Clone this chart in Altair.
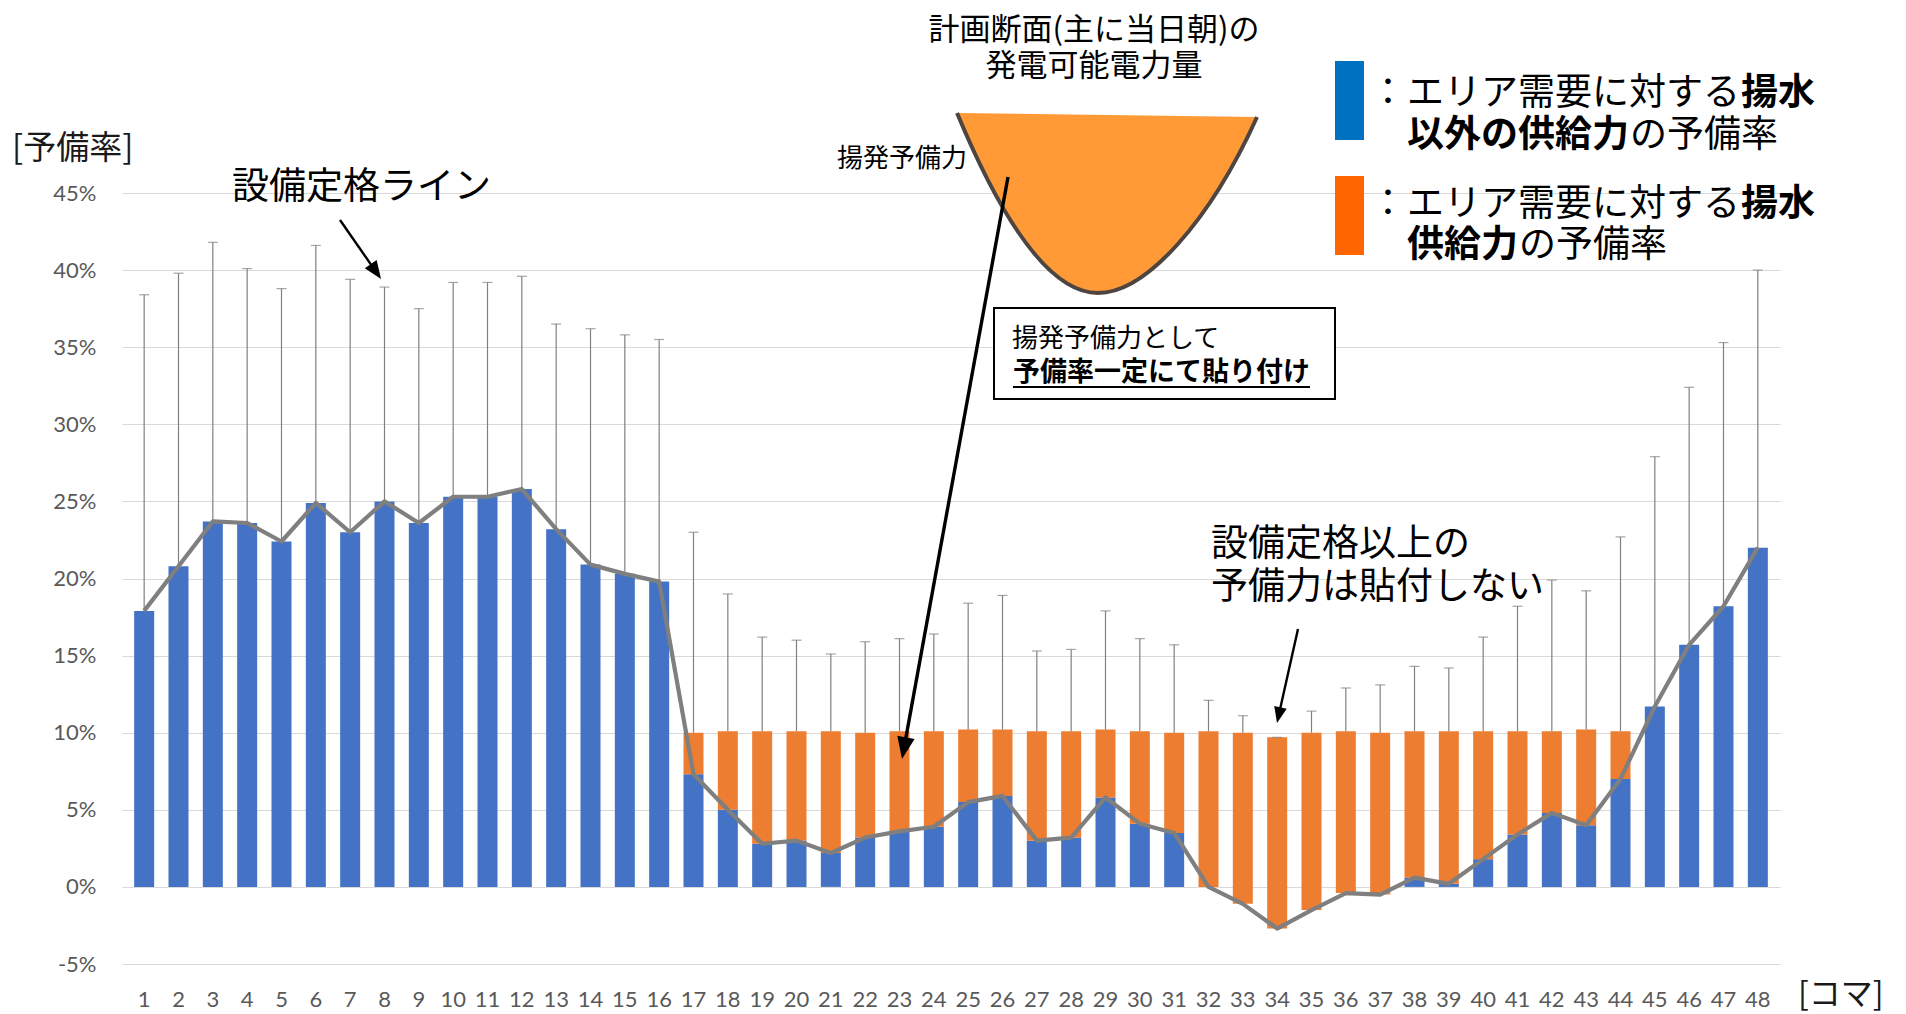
import math
import altair as alt
import pandas as pd

# ---------------- data ----------------
koma = list(range(1, 49))
# reserve rate of supply other than pumped storage (grey line)
line_rate = [17.9, 20.8, 23.7, 23.6, 22.4, 24.9, 23.0, 25.0, 23.6, 25.3, 25.3, 25.8,
             23.2, 20.9, 20.3, 19.8, 7.3, 5.0, 2.8, 3.0, 2.2, 3.2, 3.6, 3.9,
             5.5, 5.9, 3.0, 3.2, 5.8, 4.1, 3.5, 0.0, -1.1, -2.7, -1.5, -0.4,
             -0.5, 0.6, 0.2, 1.8, 3.4, 4.8, 4.0, 7.0, 11.7, 15.7, 18.2, 22.0]
# blue bars
blue_rate = [17.9, 20.8, 23.7, 23.6, 22.4, 24.9, 23.0, 25.0, 23.6, 25.3, 25.3, 25.8,
             23.2, 20.9, 20.3, 19.8, 7.3, 5.0, 2.8, 3.0, 2.2, 3.2, 3.6, 3.9,
             5.5, 5.9, 3.0, 3.2, 5.8, 4.1, 3.5, None, None, None, None, None,
             None, 0.6, 0.2, 1.8, 3.4, 4.8, 4.0, 7.0, 11.7, 15.7, 18.2, 22.0]
# top of the orange (pumped storage) bars
pumped_top = [None, None, None, None, None, None, None, None, None, None, None, None,
              None, None, None, None, 10.0, 10.1, 10.1, 10.1, 10.1, 10.0, 10.1, 10.1,
              10.2, 10.2, 10.1, 10.1, 10.2, 10.1, 10.0, 10.1, 10.0, 9.7, 10.0, 10.1,
              10.0, 10.1, 10.1, 10.1, 10.1, 10.1, 10.2, 10.1, None, None, None, None]
# equipment rating line (error-bar tops)
rating = [38.4, 39.8, 41.8, 40.1, 38.8, 41.6, 39.4, 38.9, 37.5, 39.2, 39.2, 39.6,
          36.5, 36.2, 35.8, 35.5, 23.0, 19.0, 16.2, 16.0, 15.1, 15.9, 16.1, 16.4,
          18.4, 18.9, 15.3, 15.4, 17.9, 16.1, 15.7, 12.1, 11.1, 9.7, 11.4, 12.9,
          13.1, 14.3, 14.2, 16.2, 18.2, 19.9, 19.2, 22.7, 27.9, 32.4, 35.3, 40.0]
y_ticks = [-5, 0, 5, 10, 15, 20, 25, 30, 35, 40, 45]

y_title = "[予備率]"
x_title = "[コマ]"
note_rating = "設備定格ライン"
note_top = ["計画断面(主に当日朝)の", "発電可能電力量"]
note_pump = "揚発予備力"
box_lines = ["揚発予備力として", "予備率一定にて貼り付け"]
note_limit = ["設備定格以上の", "予備力は貼付しない"]
legend_blue = [("：", False), ("エリア需要に対する", False), ("揚水", True),
               ("以外の供給力", True), ("の予備率", False)]
legend_orange = [("：", False), ("エリア需要に対する", False), ("揚水", True),
                 ("供給力", True), ("の予備率", False)]

df = pd.DataFrame({"koma": koma, "line": line_rate, "blue": blue_rate,
                   "top": pumped_top, "rating": rating})
df["base"] = df["top"].fillna(df["blue"])

# ---------------- layout ----------------
OX, OY = 122, 193          # page position of plot origin
W, H = 1658, 771
JP = "Noto Sans CJK JP"
NUM = "Lato"
LBL = 22

xenc = alt.X("koma:Q", scale=alt.Scale(domain=[0.5, 48.5], nice=False, zero=False),
             axis=None)
xplain = alt.X("koma:Q", axis=None)
yscale = alt.Scale(domain=[-5, 45], nice=False, zero=False)

blue = alt.Chart(df).transform_filter("datum.blue != null").mark_bar(
    size=20, color="#4472C4").encode(
    x=xenc,
    y=alt.Y("blue:Q", scale=yscale,
            axis=alt.Axis(values=y_ticks, labelExpr="datum.value + '%'", title=None)),
    y2=alt.datum(0))

orange = alt.Chart(df).transform_filter("datum.top != null").mark_bar(
    size=20, color="#ED7D31").encode(
    x=xplain, y=alt.Y("line:Q", title=None), y2="top:Q")

err = alt.Chart(df).mark_rule(color="#808080", strokeWidth=1.2).encode(
    x=xplain, y=alt.Y("base:Q", title=None), y2="rating:Q")
cap = alt.Chart(df).mark_tick(orient="horizontal", size=10, thickness=1.2,
                              color="#808080").encode(
    x=xplain, y=alt.Y("rating:Q", title=None))

line = alt.Chart(df).mark_line(color="#7F7F7F", strokeWidth=4.2,
                               strokeJoin="round").encode(
    x=xplain, y=alt.Y("line:Q", title=None))

# x tick labels (category numbers) placed through the x scale
xlabels = alt.Chart(df).mark_text(
    font=NUM, fontSize=LBL, color="#595959", baseline="alphabetic",
    align="center").encode(
    x=xplain, y=alt.value(999 - OY + 0.36 * LBL),
    text=alt.Text("koma:Q", format="d"))

one = pd.DataFrame({"t": [""]})


def txt(s, x, yc, size, bold=False, align="left", color="#000000", font=JP,
        line_height=None):
    kw = dict(align=align, baseline="alphabetic", fontSize=size, font=font,
              fontWeight="bold" if bold else "normal", color=color, text=s)
    if line_height:
        kw["lineHeight"] = line_height
    return alt.Chart(one).mark_text(**kw).encode(
        x=alt.value(x - OX), y=alt.value(yc - OY + 0.37 * size))


def arrow(x0, y0, x1, y1, width, head):
    dx, dy = x1 - x0, y1 - y0
    L = math.hypot(dx, dy)
    ux, uy = dx / L, dy / L
    ex, ey = x1 - ux * head * 0.7, y1 - uy * head * 0.7
    ang = math.degrees(math.atan2(dx, -dy)) % 360
    shaft = alt.Chart(one).mark_rule(color="#000000", strokeWidth=width).encode(
        x=alt.value(x0 - OX), y=alt.value(y0 - OY),
        x2=alt.value(ex - OX), y2=alt.value(ey - OY))
    tip = alt.Chart(one).mark_point(
        shape="M 0 0 L 0.4 1 L -0.4 1 Z", size=(2 * head) ** 2, angle=ang,
        filled=True, color="#000000", opacity=1, strokeWidth=0).encode(
        x=alt.value(x1 - OX), y=alt.value(y1 - OY))
    return [shaft, tip]


def rect(x0, y0, x1, y1, fill, stroke=None, sw=0):
    kw = dict(fill=fill, strokeWidth=sw)
    if stroke:
        kw["stroke"] = stroke
    return alt.Chart(one).mark_rect(**kw).encode(
        x=alt.value(x0 - OX), x2=alt.value(x1 - OX),
        y=alt.value(y0 - OY), y2=alt.value(y1 - OY))


layers = [blue, orange, err, cap, line, xlabels]

# parabola illustration
PCX, PCY, PR = 1098, 205, 160
curve = "M -0.881 -0.575 C -0.6 0.1 -0.3 0.55 0 0.55 C 0.3 0.55 0.7 0.1 0.994 -0.55"
layers.append(alt.Chart(one).mark_point(
    shape=curve + " Z", size=(2 * PR) ** 2, filled=True, color="#FF9A36",
    opacity=1, strokeWidth=0).encode(x=alt.value(PCX - OX), y=alt.value(PCY - OY)))
layers.append(alt.Chart(one).mark_point(
    shape=curve, size=(2 * PR) ** 2, filled=False, color="#4F4540",
    opacity=1, strokeWidth=4).encode(x=alt.value(PCX - OX), y=alt.value(PCY - OY)))

# arrows
layers += arrow(340, 220, 381, 279, 2.4, 18)
layers += arrow(1008, 177, 902, 759, 3.4, 22)
layers += arrow(1298, 629, 1277, 723, 2.4, 16)

# box
layers.append(rect(994, 308, 1335, 399, "#FFFFFF", "#000000", 2))
layers.append(txt(box_lines[0], 1012, 337, 26))
layers.append(txt(box_lines[1], 1013, 371, 27, bold=True))
layers.append(alt.Chart(one).mark_rule(color="#000000", strokeWidth=2).encode(
    x=alt.value(1013 - OX), x2=alt.value(1310 - OX),
    y=alt.value(387 - OY), y2=alt.value(387 - OY)))

# texts
layers.append(txt(y_title, 12, 147, 33, color="#1A1A1A"))
layers.append(txt(x_title, 1798, 993, 32, color="#1A1A1A"))
layers.append(txt(note_rating, 232, 185, 37))
layers.append(txt(note_top, 1094, 29, 31, align="center", line_height=36))
layers.append(txt(note_pump, 837, 157, 26))
layers.append(txt(note_limit, 1211, 542, 37, line_height=43))

# legend
FS = 37
layers.append(rect(1335, 61, 1364, 140, "#0070C0"))
layers.append(rect(1335, 176, 1364, 255, "#FF6600"))
for (seg_list, y1, y2) in [(legend_blue, 91, 133), (legend_orange, 202, 243)]:
    layers.append(txt(seg_list[0][0], 1388, y1, FS, align="center"))
    layers.append(txt(seg_list[1][0], 1407, y1, FS, bold=seg_list[1][1]))
    layers.append(txt(seg_list[2][0], 1408 + FS * len(seg_list[1][0]), y1, FS,
                      bold=seg_list[2][1]))
    layers.append(txt(seg_list[3][0], 1407, y2, FS, bold=seg_list[3][1]))
    layers.append(txt(seg_list[4][0], 1408 + FS * len(seg_list[3][0]), y2, FS,
                      bold=seg_list[4][1]))

chart = alt.layer(*layers).properties(
    width=W, height=H,
    padding={"left": OX - 8, "top": OY - 8, "right": 1890 - (OX - 8) - W,
             "bottom": 1006 - (OY - 8) - H},
    autosize=alt.AutoSizeParams(type="none"),
    background="#FFFFFF",
).configure_view(stroke=None).configure_axisY(
    labelFontSize=LBL, labelColor="#595959", labelFont=NUM, labelPadding=26,
    ticks=False, domain=False, grid=True, gridColor="#D9D9D9", gridWidth=1.2,
    labelOverlap=False,
)

chart.save("out.html", embed_options={"renderer": "svg", "actions": False})
